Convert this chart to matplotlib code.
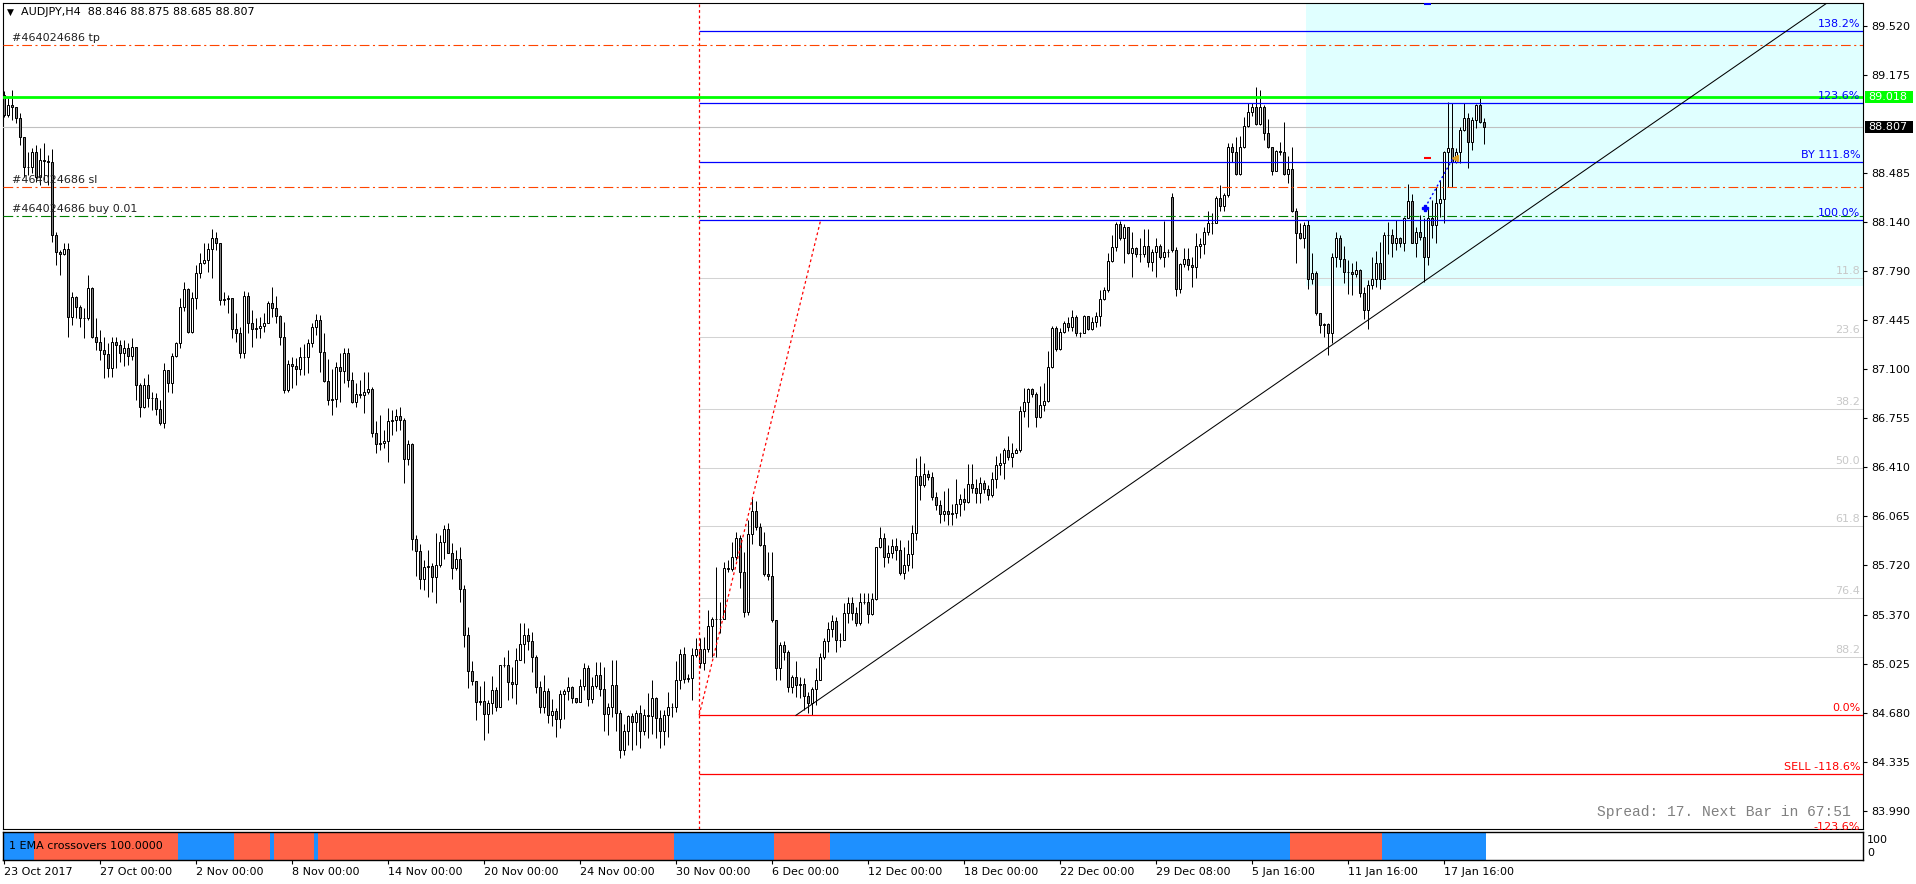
import matplotlib
matplotlib.use('Agg')
import matplotlib.pyplot as plt
import numpy as np
from matplotlib.patches import Rectangle
from matplotlib.transforms import blended_transform_factory

plt.rcParams['lines.scale_dashes'] = False
plt.rcParams['font.family'] = ['DejaVu Sans']

# ---------------- DATA ----------------
symbol_header = "AUDJPY,H4  88.846 88.875 88.685 88.807"
first_open = 89.034
open_gaps = {292: 88.313}

closes = [
    88.893, 88.963, 88.952, 88.869, 88.740, 88.529, 88.529, 88.634, 88.458, 88.576,
    88.571, 88.559, 88.047, 87.930, 87.911, 87.949, 87.472, 87.613, 87.542, 87.460,
    87.460, 87.671, 87.331, 87.296, 87.237, 87.209, 87.112, 87.296, 87.272, 87.218,
    87.249, 87.195, 87.260, 86.990, 86.833, 86.990, 86.896, 86.896, 86.819, 86.720,
    87.096, 87.002, 87.195, 87.284, 87.538, 87.664, 87.366, 87.601, 87.777, 87.848,
    87.871, 87.946, 88.028, 87.989, 87.589, 87.594, 87.601, 87.382, 87.354, 87.218,
    87.617, 87.429, 87.382, 87.390, 87.406, 87.429, 87.566, 87.530, 87.476, 87.331,
    86.955, 87.138, 87.124, 87.105, 87.190,
    87.190, 87.288, 87.396, 87.448, 87.220, 87.018, 86.884, 86.889, 87.114, 87.091,
    87.213, 87.025, 86.872, 86.927, 86.919, 86.943, 86.959, 86.654, 86.574, 86.584,
    86.595, 86.736, 86.743, 86.769, 86.743, 86.466, 86.574, 85.902, 85.820, 85.620,
    85.705, 85.714, 85.639, 85.721, 85.886, 85.973, 85.808, 85.698, 85.761, 85.550,
    85.228, 84.975, 84.904, 84.754, 84.765, 84.669, 84.747, 84.841, 84.723, 85.017,
    85.017, 84.895, 84.881, 85.052, 85.165, 85.228, 85.186, 85.071, 84.859, 84.718,
    84.834, 84.664, 84.693, 84.634, 84.812, 84.834, 84.859, 84.782, 84.754, 84.869,
    84.993, 84.775, 84.869, 84.946, 84.850,
    84.669, 84.718, 84.875, 84.681, 84.420, 84.550, 84.657, 84.617, 84.676, 84.550,
    84.666, 84.657, 84.786, 84.645, 84.550, 84.664, 84.718, 84.718, 84.911, 85.092,
    84.915, 84.922, 85.087, 85.127, 85.028, 85.127, 85.291, 85.338, 85.338, 85.338,
    85.698, 85.693, 85.780, 85.909, 85.670, 85.392, 85.937, 86.104, 85.987, 85.862,
    85.658, 85.646, 85.334, 84.993, 85.157, 85.106, 84.864, 84.934, 84.876, 84.880,
    84.798, 84.751, 84.845, 84.911, 85.071, 85.188, 85.268, 85.327, 85.193, 85.193,
    85.385, 85.456, 85.381, 85.310, 85.463, 85.463, 85.374, 85.479, 85.846, 85.909,
    85.780, 85.803, 85.855, 85.827, 85.662,
    85.720, 85.800, 85.950, 86.349, 86.285,
    86.361, 86.340, 86.203, 86.145, 86.080, 86.100, 86.080, 86.090, 86.150, 86.185,
    86.168, 86.293, 86.262, 86.231, 86.302, 86.255, 86.215, 86.325, 86.426, 86.443,
    86.532, 86.480, 86.513, 86.532, 86.809, 86.873, 86.960, 86.927, 86.762, 86.849,
    86.877, 87.119, 87.390, 87.242, 87.366, 87.425, 87.397, 87.467, 87.359, 87.359,
    87.476, 87.382, 87.437, 87.476, 87.594, 87.660, 87.866, 87.960, 88.125, 88.024,
    88.101, 87.918, 87.953, 87.913, 87.913, 87.970, 87.859, 87.930, 87.970, 87.890,
    87.930, 87.930, 87.942, 87.664, 87.843, 87.876, 87.836, 87.819, 87.970, 87.984,
    88.070, 88.129, 88.134, 88.310, 88.251, 88.329, 88.665, 88.634, 88.474, 88.665,
    88.815, 88.911, 88.951, 88.827, 88.946, 88.763, 88.665, 88.500, 88.641, 88.634,
    88.477, 88.509, 88.218, 88.063, 88.023, 88.117, 87.734, 87.781, 87.495, 87.413,
    87.417, 87.359, 87.889, 88.023, 87.875, 87.788, 87.788, 87.772, 87.800, 87.636,
    87.518, 87.694, 87.734, 87.852, 87.734, 88.047, 88.047, 87.988, 88.023, 87.988,
    88.164, 88.289, 87.993, 88.070, 88.035, 87.894, 88.164, 88.117, 88.275, 88.298,
    88.634, 88.657, 88.563, 88.634, 88.787, 88.869, 88.705, 88.857, 88.963, 88.846,
    88.807,
]

highs = [
    89.064, 89.010, 89.069, 88.916, 88.905, 88.740, 88.634, 88.658, 88.681, 88.658,
    88.693, 88.611, 88.651, 88.071, 87.942, 87.989, 87.989, 87.648, 87.617, 87.554,
    87.530, 87.765, 87.683, 87.460, 87.378, 87.331, 87.284, 87.331, 87.331, 87.307,
    87.307, 87.284, 87.324, 87.260, 87.002, 87.037, 87.068, 86.943, 86.936, 86.885,
    87.148, 87.096, 87.213, 87.296, 87.601, 87.718, 87.671, 87.648, 87.836, 87.918,
    87.993, 87.989, 88.087, 88.071, 87.993, 87.648, 87.624, 87.566, 87.495, 87.401,
    87.655, 87.648, 87.519, 87.460, 87.472, 87.495, 87.585, 87.683, 87.617, 87.483,
    87.437, 87.166, 87.190, 87.178, 87.260,
    87.279, 87.312, 87.425, 87.490, 87.483, 87.354, 87.171, 87.100, 87.154, 87.218,
    87.248, 87.248, 87.079, 87.002, 87.025, 87.084, 87.084, 86.978, 86.736, 86.779,
    86.673, 86.826, 86.814, 86.818, 86.833, 86.755, 86.602, 86.579, 85.933, 85.869,
    85.757, 85.827, 85.738, 85.945, 85.933, 86.003, 86.015, 85.874, 85.827, 85.846,
    85.581, 85.282, 85.047, 84.904, 84.869, 84.904, 84.770, 84.939, 84.864, 85.017,
    85.071, 85.122, 85.003, 85.134, 85.310, 85.310, 85.275, 85.252, 85.087, 84.906,
    84.946, 84.852, 84.775, 84.711, 84.841, 84.845, 84.930, 84.869, 84.787, 84.916,
    85.029, 85.017, 84.930, 85.036, 85.040,
    85.005, 84.750, 85.052, 85.050, 84.700, 84.600, 84.664, 84.680, 84.700, 84.735,
    84.710, 84.817, 84.911, 84.793, 84.700, 84.700, 84.829, 84.746, 85.047, 85.127,
    85.146, 84.950, 85.134, 85.204, 85.204, 85.216, 85.404, 85.357, 85.709, 85.463,
    85.745, 85.757, 85.886, 85.956, 85.933, 85.815, 86.038, 86.191, 86.172, 86.015,
    85.956, 85.815, 85.815, 85.334, 85.181, 85.188, 85.122, 84.946, 85.047, 84.934,
    84.923, 84.829, 84.864, 84.993, 85.099, 85.204, 85.322, 85.369, 85.357, 85.240,
    85.451, 85.498, 85.498, 85.428, 85.521, 85.521, 85.521, 85.521, 85.850, 85.991,
    85.944, 85.862, 85.902, 85.909, 85.897,
    85.850, 85.900, 86.000, 86.473, 86.490,
    86.438, 86.390, 86.380, 86.239, 86.180, 86.246, 86.262, 86.150, 86.325, 86.220,
    86.262, 86.434, 86.434, 86.325, 86.340, 86.321, 86.286, 86.380, 86.490, 86.513,
    86.544, 86.631, 86.584, 86.545, 86.842, 86.967, 86.967, 86.967, 86.943, 86.983,
    87.007, 87.232, 87.406, 87.406, 87.390, 87.444, 87.472, 87.519, 87.483, 87.366,
    87.483, 87.448, 87.472, 87.507, 87.660, 87.683, 87.923, 88.047, 88.141, 88.148,
    88.125, 88.101, 88.071, 87.960, 88.024, 88.087, 88.087, 87.946, 88.024, 87.984,
    88.148, 87.945, 88.341, 87.960, 87.850, 87.953, 87.953, 87.895, 88.059, 88.024,
    88.106, 88.218, 88.199, 88.322, 88.399, 88.340, 88.693, 88.693, 88.735, 88.744,
    88.881, 88.979, 88.979, 89.087, 89.069, 88.963, 88.862, 88.670, 88.645, 88.704,
    88.845, 88.603, 88.669, 88.235, 88.129, 88.141, 88.152, 87.918, 87.790, 87.500,
    87.430, 87.430, 87.918, 88.070, 88.047, 87.969, 87.871, 87.850, 87.866, 87.810,
    87.683, 87.730, 87.889, 87.936, 88.000, 88.070, 88.141, 88.087, 88.152, 88.030,
    88.171, 88.406, 88.336, 88.100, 88.188, 88.164, 88.246, 88.293, 88.383, 88.434,
    88.641, 88.986, 88.979, 88.660, 88.810, 88.975, 88.904, 88.880, 88.970, 89.010,
    88.875,
]

lows = [
    88.881, 88.881, 88.858, 88.839, 88.681, 88.458, 88.470, 88.482, 88.423, 88.400,
    88.435, 88.400, 88.000, 87.836, 87.765, 87.906, 87.331, 87.413, 87.460, 87.401,
    87.319, 87.448, 87.319, 87.237, 87.166, 87.037, 87.049, 87.049, 87.108, 87.155,
    87.124, 87.131, 87.166, 86.885, 86.767, 86.826, 86.837, 86.814, 86.779, 86.708,
    86.685, 86.943, 86.932, 87.190, 87.249, 87.514, 87.354, 87.354, 87.523, 87.742,
    87.843, 87.789, 87.742, 87.942, 87.554, 87.554, 87.500, 87.319, 87.296, 87.178,
    87.178, 87.354, 87.260, 87.319, 87.319, 87.366, 87.437, 87.472, 87.425, 87.272,
    86.932, 86.943, 86.967, 86.990, 87.061,
    87.060, 87.077, 87.260, 87.342, 87.084, 87.013, 86.849, 86.779, 86.837, 86.872,
    87.002, 86.978, 86.865, 86.837, 86.896, 86.790, 86.927, 86.621, 86.508, 86.532,
    86.544, 86.450, 86.638, 86.666, 86.673, 86.297, 86.426, 85.827, 85.644, 85.550,
    85.545, 85.494, 85.534, 85.456, 85.710, 85.761, 85.804, 85.620, 85.686, 85.463,
    85.141, 84.857, 84.876, 84.629, 84.735, 84.488, 84.535, 84.669, 84.695, 84.719,
    85.005, 84.770, 84.787, 84.742, 85.052, 85.029, 85.122, 84.970, 84.822, 84.681,
    84.676, 84.606, 84.587, 84.512, 84.570, 84.634, 84.770, 84.751, 84.747, 84.770,
    84.841, 84.728, 84.751, 84.852, 84.800,
    84.550, 84.520, 84.652, 84.550, 84.360, 84.380, 84.450, 84.420, 84.450, 84.430,
    84.520, 84.500, 84.530, 84.500, 84.430, 84.450, 84.510, 84.648, 84.688, 84.845,
    84.887, 84.900, 84.770, 85.071, 84.993, 84.981, 85.110, 85.075, 85.075, 85.240,
    85.510, 85.674, 85.681, 85.756, 85.557, 85.357, 85.369, 85.869, 85.968, 85.855,
    85.644, 85.615, 85.322, 84.911, 84.911, 85.052, 84.829, 84.822, 84.793, 84.782,
    84.699, 84.681, 84.664, 84.735, 84.915, 85.056, 85.110, 85.216, 85.110, 85.146,
    85.221, 85.310, 85.334, 85.291, 85.298, 85.444, 85.310, 85.369, 85.475, 85.839,
    85.709, 85.733, 85.768, 85.756, 85.651,
    85.620, 85.680, 85.700, 85.900, 86.180,
    86.270, 86.320, 86.180, 86.110, 86.020, 86.030, 86.000, 86.000, 86.050, 86.070,
    86.110, 86.156, 86.231, 86.156, 86.161, 86.231, 86.180, 86.203, 86.262, 86.356,
    86.325, 86.462, 86.415, 86.520, 86.520, 86.767, 86.692, 86.908, 86.697, 86.755,
    86.809, 86.873, 87.108, 87.232, 87.237, 87.354, 87.373, 87.373, 87.336, 87.326,
    87.425, 87.378, 87.378, 87.401, 87.406, 87.589, 87.648, 87.859, 87.937, 88.012,
    87.848, 87.913, 87.754, 87.895, 87.859, 87.895, 87.824, 87.796, 87.749, 87.876,
    87.819, 87.890, 87.930, 87.617, 87.641, 87.824, 87.801, 87.683, 87.742, 87.883,
    87.913, 88.047, 88.054, 88.164, 88.218, 88.218, 88.317, 88.564, 88.470, 88.470,
    88.657, 88.810, 88.885, 88.822, 88.820, 88.716, 88.657, 88.470, 88.500, 88.611,
    88.470, 88.411, 88.211, 87.852, 88.016, 87.953, 87.664, 87.701, 87.483, 87.354,
    87.326, 87.201, 87.283, 87.824, 87.819, 87.711, 87.631, 87.624, 87.753, 87.608,
    87.452, 87.382, 87.664, 87.683, 87.664, 87.835, 87.913, 87.894, 87.941, 87.965,
    87.936, 88.164, 87.988, 87.894, 88.012, 87.718, 87.835, 88.023, 87.993, 88.176,
    88.134, 88.387, 88.387, 88.556, 88.556, 88.782, 88.517, 88.646, 88.798, 88.834,
    88.685,
]

# EMA crossover indicator: run lengths (bars), alternating starting with "up"
ema_runs = [8, 36, 14, 9, 1, 10, 1, 89, 25, 14, 115, 23, 26]

time_tick_bars = [0, 24, 48, 72, 96, 120, 144, 168, 192, 216, 240, 264, 288, 312, 336, 360]
time_tick_labels = ["23 Oct 2017", "27 Oct 00:00", "2 Nov 00:00", "8 Nov 00:00",
                    "14 Nov 00:00", "20 Nov 00:00", "24 Nov 00:00", "30 Nov 00:00",
                    "6 Dec 00:00", "12 Dec 00:00", "18 Dec 00:00", "22 Dec 00:00",
                    "29 Dec 08:00", "5 Jan 16:00", "11 Jan 16:00", "17 Jan 16:00"]

price_ticks = [89.520, 89.175, 88.485, 88.140, 87.790, 87.445, 87.100, 86.755,
               86.410, 86.065, 85.720, 85.370, 85.025, 84.680, 84.335, 83.990]

price_ymin, price_ymax = 83.861, 89.682

# order / alert lines
tp_price = 89.386
sl_price = 88.383
buy_price = 88.179
alert_price = 89.018
bid_price = 88.807
order_id = "#464024686"

# Fibonacci object
fib_start_bar = 173.9
fib_end_bar = 204.3
fib_low = 84.662
fib_high = 88.153
fib_blue_ratios = [1.0, 1.118, 1.236, 1.382]
fib_blue_labels = ["100.0%", "BY 111.8%", "123.6%", "138.2%"]
fib_red_ratios = [0.0, -0.118, -0.236]
fib_red_labels = ["0.0%", "SELL -118.6%", "-123.6%"]
fib_grey_pcts = [11.8, 23.6, 38.2, 50.0, 61.8, 76.4, 88.2]
fib_grey_labels = ["11.8", "23.6", "38.2", "50.0", "61.8", "76.4", "88.2"]

# trendline anchors (bar, price)
trend_p1 = (198.1, 84.662)
trend_p2 = (449.1, 89.550)

# rectangle zone
zone_start_bar = 325.6
zone_bottom = 87.690

# trade arrows
trade_open = (355.4, 88.240)
trade_close = (362.4, 88.590)

# ---------------- FIGURE ----------------
W, H = 1916, 884
fig = plt.figure(figsize=(W / 100, H / 100), dpi=100)
fig.patch.set_facecolor('white')


def fx(px):
    return px / W


def fy(py):
    return 1 - py / H


ax = fig.add_axes([fx(3), fy(829), fx(1863) - fx(3), fy(3) - fy(829)])
axi = fig.add_axes([fx(3), fy(860), fx(1863) - fx(3), fy(832) - fy(860)])

n = min(len(closes), len(highs), len(lows))
c = np.array(closes[:n])
o = np.array([first_open] + closes[:n - 1])
for k, v in open_gaps.items():
    if k < n:
        o[k] = v
h = np.maximum(np.array(highs[:n]), np.maximum(o, c))
l = np.minimum(np.array(lows[:n]), np.minimum(o, c))
x = np.arange(n)

xmin, xmax = -0.125, 464.875
ax.set_xlim(xmin, xmax)
ax.set_ylim(price_ymin, price_ymax)
axi.set_xlim(xmin, xmax)

# zone rectangle
ax.add_patch(Rectangle((zone_start_bar, zone_bottom), xmax - zone_start_bar + 5,
                       price_ymax - zone_bottom + 1, facecolor='#E0FFFF',
                       edgecolor='none', zorder=0))

rng = fib_high - fib_low
trans_r = blended_transform_factory(ax.transAxes, ax.transData)


def right_label(y, text, color, dy=5.0):
    ax.annotate(text, xy=(1, y), xycoords=trans_r, xytext=(-2, dy),
                textcoords='offset points', ha='right', va='center',
                fontsize=8, color=color, zorder=9, annotation_clip=False)


# fib grey levels
for pct, lab in zip(fib_grey_pcts, fib_grey_labels):
    yv = fib_high - pct / 100.0 * rng
    ax.hlines(yv, fib_start_bar, xmax, color='#D3D3D3', lw=0.75, zorder=2)
    right_label(yv, lab, '#C8C8C8')

# candles (1 px outlines, 3 px wide bodies)
ax.vlines(x, l, h, color='black', lw=0.72, zorder=5)
bull = c >= o
ax.bar(x[bull], (c - o)[bull], bottom=o[bull], width=0.5, color='white',
       edgecolor='black', linewidth=0.72, zorder=6)
ax.bar(x[~bull], (o - c)[~bull], bottom=c[~bull], width=0.5, color='#808080',
       edgecolor='black', linewidth=0.72, zorder=6)

# fib blue / red levels
for r, lab in zip(fib_blue_ratios, fib_blue_labels):
    yv = fib_low + r * rng
    ax.hlines(yv, fib_start_bar, xmax, color='#0000FF', lw=0.9, zorder=7)
    right_label(yv, lab, '#0000FF')
for r, lab in zip(fib_red_ratios, fib_red_labels):
    yv = fib_low + r * rng
    ax.hlines(yv, fib_start_bar, xmax, color='#FF0000', lw=0.9, zorder=7)
    right_label(yv, lab, '#FF0000', dy=4.0 if r < -0.2 else 5.0)

# fib vertical + diagonal (red dotted)
ax.axvline(fib_start_bar, color='#FF0000', lw=0.9, ls=(0, (2, 2)), zorder=7)
ax.plot([fib_start_bar, fib_end_bar], [fib_low, fib_high], color='#FF0000',
        lw=0.9, ls=(0, (2, 2)), zorder=7)

# order lines
dashdot = (0, (7, 2.5, 1.5, 2.5))
ax.axhline(tp_price, color='#FF4500', lw=0.8, ls=dashdot, zorder=7)
ax.axhline(sl_price, color='#FF4500', lw=0.8, ls=dashdot, zorder=7)
ax.axhline(buy_price, color='#008000', lw=0.8, ls=dashdot, zorder=7)
ax.axhline(alert_price, color='#00FF00', lw=2.0, zorder=7)
ax.axhline(bid_price, color='#C0C0C0', lw=0.8, zorder=4)

trans_l = blended_transform_factory(ax.transAxes, ax.transData)
for yv, lab in [(tp_price, order_id + " tp"), (sl_price, order_id + " sl"),
                (buy_price, order_id + " buy 0.01")]:
    ax.annotate(lab, xy=(0, yv), xycoords=trans_l, xytext=(6.5, 5.0),
                textcoords='offset points', ha='left', va='center',
                fontsize=8, color='#222222', zorder=9)

# trendline (ray)
slope = (trend_p2[1] - trend_p1[1]) / (trend_p2[0] - trend_p1[0])
x_end = xmax
ax.plot([trend_p1[0], x_end], [trend_p1[1], trend_p1[1] + slope * (x_end - trend_p1[0])],
        color='black', lw=0.75, zorder=8)

# trade markers
ax.plot([trade_open[0], trade_close[0]], [trade_open[1], trade_close[1]],
        color='#0000FF', lw=1.0, ls=(0, (1.5, 2)), zorder=8)
ax.plot([trade_open[0]], [trade_open[1]], marker='P', color='#0000FF',
        markersize=5, zorder=9)
ax.plot([trade_close[0] + 0.4], [trade_close[1]], marker='<', color='#E0A020',
        markersize=5, zorder=9)
ax.hlines(trade_close[1], 355.1, 356.9, color='#FF0000', lw=1.5, zorder=9)
ax.hlines(price_ymax - 0.008, 355.1, 356.9, color='#0000FF', lw=1.5, zorder=9)

# axes styling
ax.set_xticks([])
ax.yaxis.tick_right()
ax.set_yticks(price_ticks)
ax.set_yticklabels([f"{v:.3f}" for v in price_ticks])
ax.tick_params(axis='y', direction='out', length=3, width=0.8, pad=3,
               labelsize=8, colors='black')
for sp in ax.spines.values():
    sp.set_color('black')
    sp.set_linewidth(0.8)

# value boxes on price axis
ppu = (829 - 3) / (price_ymax - price_ymin)
half = 5.8 / ppu
tb = blended_transform_factory(fig.transFigure, ax.transData)
for val, fc in [(alert_price, '#00FF00'), (bid_price, '#000000')]:
    fig.add_artist(Rectangle((fx(1865), val - half), fx(1913) - fx(1865), 2 * half,
                             transform=tb, facecolor=fc, edgecolor='none', zorder=10))
    t = fig.text(fx(1868), 0, f"{val:.3f}", transform=tb, fontsize=8, color='white',
                 ha='left', va='center', zorder=11)
    t.set_y(val)

# header
fig.text(fx(7), fy(12), "\u25BC", fontsize=6.5, color='black', ha='left', va='center')
fig.text(fx(21), fy(12), symbol_header, fontsize=8, color='black', ha='left', va='center')

# spread text
fig.text(fx(1851), fy(812), "Spread: 17. Next Bar in 67:51", fontsize=10.5,
         family='Liberation Mono', color='#808080', ha='right', va='center', zorder=8)

# indicator pane
states = []
for i, r in enumerate(ema_runs):
    states += [i % 2 == 0] * r
states = states[:n]
cols = ['#1E90FF' if s else '#FF6347' for s in states]
axi.bar(np.arange(len(states)), [100] * len(states), width=1.0, color=cols,
        linewidth=0, antialiased=False)
axi.set_ylim(0, 100)
axi.set_yticks([])
axi.set_xticks(time_tick_bars)
axi.set_xticklabels(time_tick_labels)
for t in axi.get_xticklabels():
    t.set_ha('left')
axi.tick_params(axis='x', direction='out', length=3, width=0.8, pad=2,
                labelsize=8, colors='black')
for sp in axi.spines.values():
    sp.set_color('black')
    sp.set_linewidth(1.0)
axi.text(0.003, 0.5, "1 EMA crossovers 100.0000", transform=axi.transAxes,
         fontsize=8, color='black', ha='left', va='center', zorder=5)
fig.text(fx(1867), fy(840), "100", fontsize=8, color='black', ha='left', va='center')
fig.text(fx(1867), fy(853), "0", fontsize=8, color='black', ha='left', va='center')

fig.savefig('out.png', dpi=100)
